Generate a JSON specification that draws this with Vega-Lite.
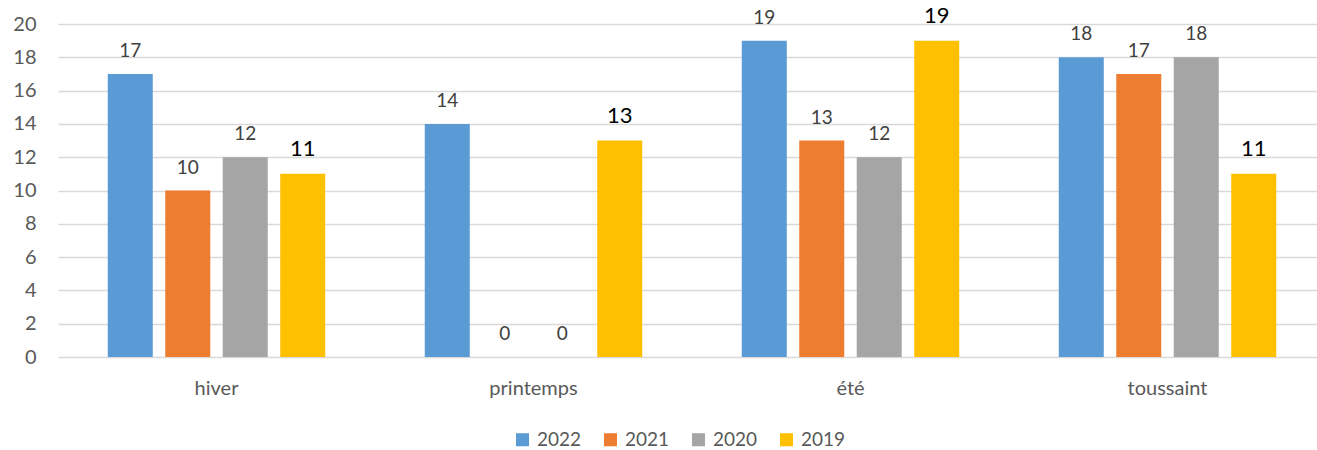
{
  "$schema": "https://vega.github.io/schema/vega-lite/v6.json",
  "autosize": {"type": "none"},
  "width": 1268,
  "height": 333,
  "padding": {"left": 58, "top": 24, "right": -9, "bottom": 93},
  "background": "white",
  "config": {
    "font": "Lato",
    "view": {"stroke": null},
    "axis": {"labelFont": "Lato", "labelColor": "#595959", "labelFontSize": 20},
    "legend": {"labelFont": "Lato", "labelColor": "#595959", "labelFontSize": 19}
  },
  "data": {
    "values": [
      {"saison": "hiver", "annee": "2022", "valeur": 17},
      {"saison": "hiver", "annee": "2021", "valeur": 10},
      {"saison": "hiver", "annee": "2020", "valeur": 12},
      {"saison": "hiver", "annee": "2019", "valeur": 11},
      {"saison": "printemps", "annee": "2022", "valeur": 14},
      {"saison": "printemps", "annee": "2021", "valeur": 0},
      {"saison": "printemps", "annee": "2020", "valeur": 0},
      {"saison": "printemps", "annee": "2019", "valeur": 13},
      {"saison": "été", "annee": "2022", "valeur": 19},
      {"saison": "été", "annee": "2021", "valeur": 13},
      {"saison": "été", "annee": "2020", "valeur": 12},
      {"saison": "été", "annee": "2019", "valeur": 19},
      {"saison": "toussaint", "annee": "2022", "valeur": 18},
      {"saison": "toussaint", "annee": "2021", "valeur": 17},
      {"saison": "toussaint", "annee": "2020", "valeur": 18},
      {"saison": "toussaint", "annee": "2019", "valeur": 11}
    ]
  },
  "encoding": {
    "x": {
      "field": "saison", "type": "nominal",
      "sort": ["hiver", "printemps", "été", "toussaint"],
      "scale": {"paddingInner": 0.314, "paddingOuter": 0.157},
      "axis": {"title": null, "labelAngle": 0, "domain": false, "ticks": false, "labelPadding": 21, "grid": false}
    },
    "xOffset": {
      "field": "annee", "type": "nominal",
      "sort": ["2022", "2021", "2020", "2019"],
      "scale": {"paddingInner": 0.217, "paddingOuter": 0}
    },
    "y": {
      "field": "valeur", "type": "quantitative",
      "scale": {"domain": [0, 20]},
      "axis": {"title": null, "values": [0,2,4,6,8,10,12,14,16,18,20], "domain": false, "ticks": false, "labelPadding": 22, "gridColor": "#D9D9D9", "gridWidth": 1.3}
    }
  },
  "layer": [
    {
      "mark": {"type": "bar"},
      "encoding": {
        "color": {
          "field": "annee", "type": "nominal",
          "sort": ["2022", "2021", "2020", "2019"],
          "scale": {"domain": ["2022", "2021", "2020", "2019"], "range": ["#5B9BD5", "#ED7D31", "#A5A5A5", "#FFC000"]},
          "legend": {
            "title": null, "orient": "none", "direction": "horizontal",
            "legendX": 455, "legendY": 406,
            "symbolType": "square", "symbolSize": 170, "symbolStrokeWidth": 0,
            "columnPadding": 19, "labelOffset": 5
          }
        }
      }
    },
    {
      "transform": [{"filter": "datum.annee != '2019'"}],
      "mark": {"type": "text", "baseline": "alphabetic", "dy": -17, "fontSize": 19, "color": "#404040"},
      "encoding": {"text": {"field": "valeur", "type": "quantitative"}}
    },
    {
      "transform": [{"filter": "datum.annee == '2019'"}],
      "mark": {"type": "text", "baseline": "alphabetic", "dy": -18, "fontSize": 22, "color": "#000000"},
      "encoding": {"text": {"field": "valeur", "type": "quantitative"}}
    }
  ]
}
